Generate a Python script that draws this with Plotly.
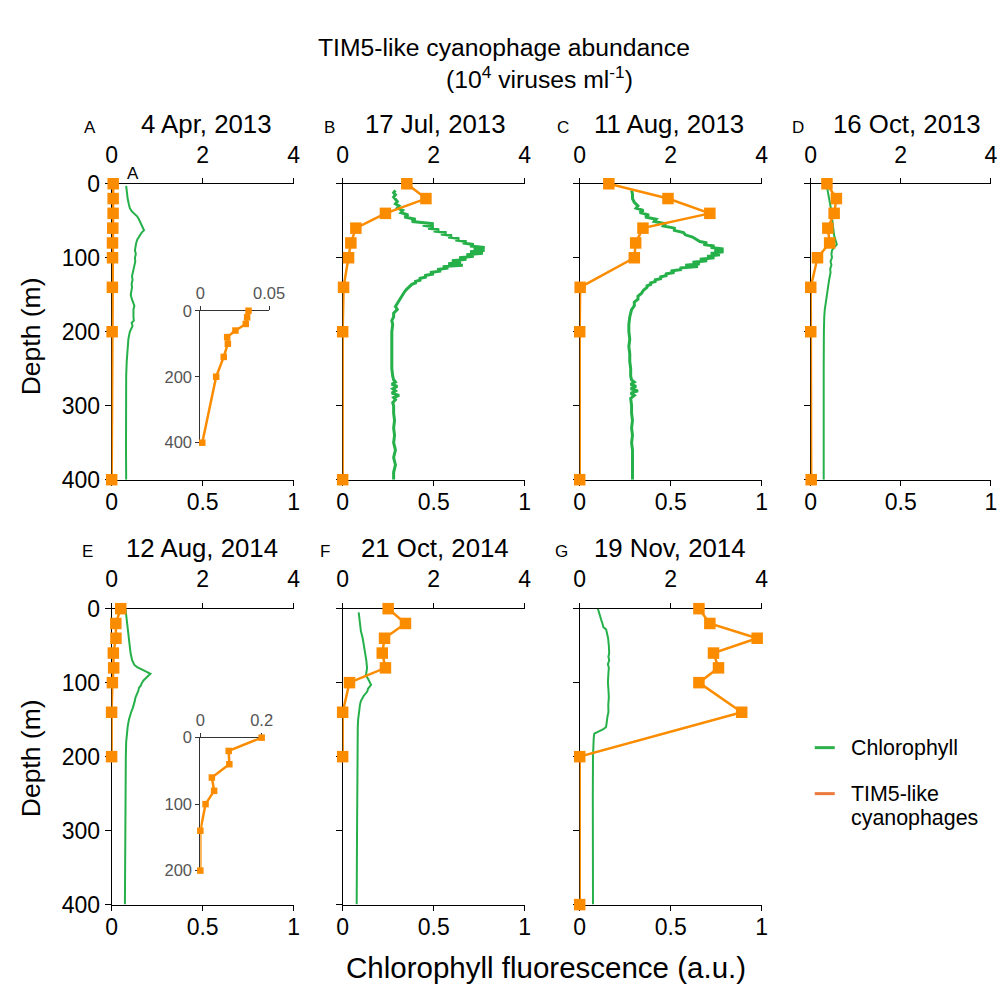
import plotly.graph_objects as go

# ---------------- data ----------------
phage_depth = [0, 20, 40, 60, 80, 100, 140, 200, 400]
phage_depth_EF = [0, 20, 40, 60, 80, 100, 140, 200]

phage_A = [0.035, 0.034, 0.033, 0.0255, 0.0195, 0.020, 0.017, 0.0115, 0.0014]
phage_B = [1.41, 1.83, 0.94, 0.29, 0.18, 0.13, 0.02, 0.0, 0.0]
phage_C = [0.64, 1.94, 2.86, 1.39, 1.23, 1.20, 0.01, 0.0, 0.0]
phage_D = [0.36, 0.57, 0.52, 0.38, 0.42, 0.15, 0.0, 0.0, 0.01]
phage_E = [0.20, 0.0925, 0.0946, 0.0376, 0.045, 0.017, 0.0, 0.0]
phage_F = [1.00, 1.38, 0.92, 0.87, 0.94, 0.15, 0.0, 0.0]
phage_G = [2.62, 2.86, 3.90, 2.94, 3.05, 2.62, 3.56, 0.0, 0.0]

chl_depth_A = [3, 10, 20, 28, 33, 37, 40, 44, 48, 52, 56, 60, 63, 66, 70, 75, 80, 85, 90, 95, 100,
               105, 110, 115, 120, 125, 130, 135, 140, 145, 150, 155, 160, 165, 170, 175, 180, 185,
               188, 192, 196, 200, 210, 220, 230, 240, 260, 280, 300, 330, 360, 400]
chl_A = [0.080, 0.083, 0.088, 0.095, 0.100, 0.110, 0.125, 0.140, 0.150, 0.158, 0.165, 0.175, 0.178,
         0.165, 0.153, 0.142, 0.135, 0.133, 0.128, 0.133, 0.128, 0.130, 0.125, 0.120, 0.118, 0.112,
         0.115, 0.110, 0.112, 0.108, 0.105, 0.110, 0.118, 0.125, 0.120, 0.118, 0.120, 0.122, 0.110,
         0.115, 0.108, 0.100, 0.092, 0.088, 0.085, 0.083, 0.080, 0.079, 0.079, 0.079, 0.079, 0.080]

chl_depth_B = [9, 12, 15, 18, 21, 24, 27, 30, 33, 36, 39, 42, 45, 48, 51, 54, 56, 58, 60, 62, 64, 66,
               68, 70, 72, 74, 76, 78, 80, 82, 84, 86, 88, 90, 92, 94, 96, 98, 100, 102, 104, 106,
               108, 110, 112, 114, 116, 118, 120, 122, 124, 126, 128, 130, 132, 134, 136, 138, 140,
               143, 146, 150, 154, 158, 162, 166, 170, 175, 180, 185, 190, 200, 210, 220, 230, 240,
               250, 260, 265, 268, 271, 274, 277, 280, 283, 286, 289, 292, 296, 300, 310, 320, 330,
               340, 350, 360, 370, 380, 390, 400]
chl_B = [0.29, 0.28, 0.29, 0.28, 0.29, 0.30, 0.29, 0.31, 0.30, 0.33, 0.32, 0.36, 0.34, 0.40, 0.38,
         0.50, 0.44, 0.50, 0.47, 0.53, 0.50, 0.57, 0.54, 0.60, 0.58, 0.64, 0.62, 0.68, 0.66, 0.72,
         0.70, 0.78, 0.72, 0.78, 0.70, 0.77, 0.68, 0.72, 0.64, 0.68, 0.60, 0.65, 0.58, 0.66, 0.55,
         0.58, 0.52, 0.54, 0.48, 0.50, 0.45, 0.46, 0.42, 0.43, 0.40, 0.40, 0.38, 0.37, 0.36, 0.35,
         0.34, 0.33, 0.32, 0.31, 0.30, 0.29, 0.30, 0.28, 0.28, 0.27, 0.275, 0.27, 0.27, 0.27, 0.27,
         0.27, 0.27, 0.275, 0.28, 0.29, 0.27, 0.30, 0.275, 0.29, 0.27, 0.31, 0.28, 0.29, 0.275,
         0.28, 0.28, 0.285, 0.28, 0.285, 0.28, 0.29, 0.28, 0.29, 0.28, 0.28]

chl_depth_C = [9, 14, 20, 25, 30, 33, 36, 39, 42, 45, 48, 51, 54, 57, 60, 63, 66, 69, 72, 75, 78, 80,
               82, 84, 86, 88, 90, 92, 94, 96, 98, 100, 102, 104, 106, 108, 110, 112, 114, 116, 118,
               120, 122, 124, 126, 128, 130, 132, 134, 136, 138, 140, 144, 148, 152, 156, 160, 165,
               170, 175, 180, 190, 200, 210, 220, 230, 240, 250, 260, 265, 268, 271, 274, 277, 280,
               283, 286, 290, 300, 310, 320, 330, 340, 350, 360, 370, 380, 390, 400]
chl_C = [0.285, 0.29, 0.29, 0.30, 0.32, 0.31, 0.35, 0.33, 0.38, 0.36, 0.42, 0.41, 0.47, 0.46, 0.52,
         0.52, 0.57, 0.58, 0.62, 0.64, 0.66, 0.70, 0.68, 0.74, 0.72, 0.79, 0.74, 0.79, 0.72, 0.77,
         0.70, 0.74, 0.66, 0.70, 0.62, 0.66, 0.58, 0.65, 0.55, 0.56, 0.50, 0.52, 0.47, 0.48, 0.44,
         0.45, 0.41, 0.42, 0.39, 0.39, 0.37, 0.37, 0.35, 0.34, 0.32, 0.32, 0.30, 0.30, 0.285, 0.28,
         0.275, 0.27, 0.27, 0.275, 0.27, 0.275, 0.275, 0.28, 0.28, 0.285, 0.30, 0.28, 0.31, 0.28,
         0.32, 0.28, 0.30, 0.28, 0.285, 0.285, 0.29, 0.285, 0.29, 0.285, 0.29, 0.29, 0.29, 0.29, 0.29]

chl_depth_D = [0, 10, 20, 30, 40, 50, 60, 70, 78, 82, 86, 90, 95, 100, 105, 110, 115, 120, 130, 140,
               150, 160, 170, 180, 190, 200, 250, 300, 350, 400]
chl_D = [0.087, 0.095, 0.105, 0.112, 0.117, 0.120, 0.125, 0.130, 0.140, 0.145, 0.130, 0.118, 0.115,
         0.118, 0.110, 0.115, 0.108, 0.110, 0.102, 0.095, 0.088, 0.082, 0.078, 0.075, 0.073, 0.073,
         0.072, 0.072, 0.072, 0.072]

chl_depth_E = [0, 10, 20, 30, 40, 50, 60, 70, 76, 79, 82, 85, 88, 91, 94, 97, 100, 104, 107, 110,
               115, 120, 125, 130, 135, 140, 145, 150, 160, 170, 180, 200, 250, 300, 350, 400]
chl_E = [0.076, 0.080, 0.085, 0.090, 0.095, 0.100, 0.104, 0.113, 0.125, 0.140, 0.170, 0.190, 0.213,
         0.200, 0.185, 0.175, 0.167, 0.160, 0.150, 0.148, 0.140, 0.131, 0.127, 0.122, 0.115, 0.107,
         0.100, 0.095, 0.088, 0.083, 0.080, 0.078, 0.077, 0.075, 0.074, 0.073]

chl_depth_F = [5, 20, 30, 40, 50, 60, 70, 80, 85, 90, 95, 100, 103, 108, 112, 118, 125, 130, 140, 150,
               160, 180, 200, 250, 300, 350, 400]
chl_F = [0.088, 0.095, 0.100, 0.110, 0.118, 0.125, 0.130, 0.134, 0.130, 0.128, 0.140, 0.148, 0.156,
         0.140, 0.135, 0.115, 0.100, 0.095, 0.088, 0.085, 0.083, 0.082, 0.081, 0.080, 0.079, 0.078,
         0.077]

chl_depth_G = [0, 5, 10, 15, 20, 25, 28, 32, 40, 50, 60, 65, 70, 75, 80, 90, 100, 110, 120, 130, 140,
               145, 150, 155, 160, 163, 166, 169, 175, 185, 200, 250, 300, 350, 400]
chl_G = [0.100, 0.105, 0.112, 0.118, 0.125, 0.130, 0.145, 0.150, 0.156, 0.160, 0.162, 0.158, 0.162,
         0.155, 0.160, 0.157, 0.155, 0.158, 0.160, 0.157, 0.158, 0.153, 0.150, 0.148, 0.145, 0.130,
         0.100, 0.080, 0.077, 0.074, 0.073, 0.072, 0.071, 0.072, 0.073]

panel_letters = ["A", "B", "C", "D", "E", "F", "G"]
panel_titles = ["4 Apr, 2013", "17 Jul, 2013", "11 Aug, 2013", "16 Oct, 2013",
                "12 Aug, 2014", "21 Oct, 2014", "19 Nov, 2014"]
depth_ticks = [0, 100, 200, 300, 400]
phage_ticks = [0, 2, 4]
chl_ticks = [0, 0.5, 1]
chl_ticktext = ["0", "0.5", "1"]

# ---------------- layout helpers ----------------
# measured mapping from figure pixels to the photographed picture: pic = A + B * fig
AX, BX = 6.4, 0.978
AY, BY = 11.2, 0.974
W, H = 1008, 992
GREEN = "#25b04a"
ORANGE = "#fb8c00"
FONT = "Liberation Sans, Arial, Helvetica, sans-serif"


def fx(px):
    return min(1.0, max(0.0, ((px - AX) / BX) / W))


def fy(px):
    return min(1.0, max(0.0, 1 - ((px - AY) / BY) / H))


col_x = [(112, 294), (343, 525), (580, 762), (811, 991)]
row_y = [(182, 478), (607, 903)]
panel_pos = [(0, 0), (0, 1), (0, 2), (0, 3), (1, 0), (1, 1), (1, 2)]

chl_series = [(chl_depth_A, chl_A), (chl_depth_B, chl_B), (chl_depth_C, chl_C), (chl_depth_D, chl_D),
              (chl_depth_E, chl_E), (chl_depth_F, chl_F), (chl_depth_G, chl_G)]
phage_series = [(phage_depth, phage_A), (phage_depth, phage_B), (phage_depth, phage_C),
                (phage_depth, phage_D), (phage_depth_EF, phage_E), (phage_depth_EF, phage_F),
                (phage_depth, phage_G)]
chl_width = [2, 3, 3, 2, 2, 2, 2]


def ref(prefix, n):
    return prefix if n == 1 else f"{prefix}{n}"


def lay(prefix, n):
    return f"{prefix}axis" if n == 1 else f"{prefix}axis{n}"


fig = go.Figure()
layout = {}
annotations = []
shapes = []

for k in range(7):
    r, c = panel_pos[k]
    xb, xt, yn = 2 * k + 1, 2 * k + 2, k + 1
    x0, x1 = col_x[c]
    y0, y1 = row_y[r]
    d, v = chl_series[k]
    fig.add_trace(go.Scatter(x=v, y=d, mode="lines", line=dict(color=GREEN, width=chl_width[k]),
                             xaxis=ref("x", xb), yaxis=ref("y", yn), showlegend=False,
                             cliponaxis=False))
    d, v = phage_series[k]
    fig.add_trace(go.Scatter(x=v, y=d, mode="lines+markers",
                             line=dict(color=ORANGE, width=2.5),
                             marker=dict(symbol="square", size=11.5, color=ORANGE),
                             xaxis=ref("x", xt), yaxis=ref("y", yn), showlegend=False,
                             cliponaxis=False))
    common = dict(showline=True, linecolor="black", linewidth=1, ticks="outside", ticklen=5,
                  tickcolor="black", showgrid=False, zeroline=False,
                  tickfont=dict(size=23, color="black", family=FONT), layer="below traces")
    layout[lay("x", xb)] = dict(common, domain=[fx(x0), fx(x1)], range=[0, 1], anchor=ref("y", yn),
                                side="bottom", tickvals=chl_ticks, ticktext=chl_ticktext,
                                ticklabelstandoff=-3)
    layout[lay("x", xt)] = dict(common, domain=[fx(x0), fx(x1)], range=[0, 4], anchor=ref("y", yn),
                                overlaying=ref("x", xb), side="top", tickvals=phage_ticks,
                                ticklabelstandoff=6)
    layout[lay("y", yn)] = dict(common, domain=[fy(y1), fy(y0)], range=[400, 0], anchor=ref("x", xb),
                                tickvals=depth_ticks, showticklabels=(c == 0), ticklen=6,
                                ticklabelstandoff=0)
    # panel title and letter
    title_cx = [207, 436, 669, 907, 202, 435, 670][k]
    letter_x = [90, 330, 563, 798, 88, 325, 562][k]
    ty = [122, 546][r]
    annotations.append(dict(x=fx(title_cx), y=fy(ty), text=panel_titles[k], font=dict(size=25.8)))
    annotations.append(dict(x=fx(letter_x), y=fy(ty + 4), text=panel_letters[k], font=dict(size=17)))

# ---------------- insets ----------------
insets = [
    dict(data=(phage_depth, phage_A), xr=[0, 0.05], xt=[0, 0.05], xtt=["0", "0.05"],
         yr=[400, 0], yt=[0, 200, 400], xpx=(200.7, 269.5), ypx=(309, 441), xa=15, ya=8),
    dict(data=(phage_depth_EF, phage_E), xr=[0, 0.2], xt=[0, 0.2], xtt=["0", "0.2"],
         yr=[200, 0], yt=[0, 100, 200], xpx=(200.7, 262), ypx=(736, 869), xa=16, ya=9),
]
for ins in insets:
    d, v = ins["data"]
    fig.add_trace(go.Scatter(x=v, y=d, mode="lines+markers", line=dict(color=ORANGE, width=2.5),
                             marker=dict(symbol="square", size=6.5, color=ORANGE),
                             xaxis=ref("x", ins["xa"]), yaxis=ref("y", ins["ya"]), showlegend=False,
                             cliponaxis=False))
    icommon = dict(showline=True, linecolor="#333333", linewidth=1, ticks="outside", ticklen=4,
                   tickcolor="#333333", showgrid=False, zeroline=False,
                   tickfont=dict(size=16.5, color="#555555", family=FONT), layer="below traces")
    layout[lay("x", ins["xa"])] = dict(icommon, domain=[fx(ins["xpx"][0]), fx(ins["xpx"][1])],
                                       range=ins["xr"], anchor=ref("y", ins["ya"]), side="top",
                                       tickvals=ins["xt"], ticktext=ins["xtt"])
    layout[lay("y", ins["ya"])] = dict(icommon, domain=[fy(ins["ypx"][1]), fy(ins["ypx"][0])],
                                       range=ins["yr"], anchor=ref("x", ins["xa"]),
                                       tickvals=ins["yt"])

# ---------------- titles & legend ----------------
annotations += [
    dict(x=fx(504), y=fy(46), text="TIM5-like cyanophage abundance", font=dict(size=24.7)),
    dict(x=fx(540), y=fy(76), text="(10<sup>4</sup> viruses ml<sup>-1</sup>)", font=dict(size=24.7)),
    dict(x=fx(546), y=fy(966), text="Chlorophyll fluorescence (a.u.)", font=dict(size=29.5)),
    dict(x=fx(31), y=fy(335), text="Depth (m)", font=dict(size=26.5), textangle=-90),
    dict(x=fx(31), y=fy(757), text="Depth (m)", font=dict(size=26.5), textangle=-90),
    dict(x=fx(133), y=fy(172), text="A", font=dict(size=17)),
    dict(x=fx(849), y=fy(746), text="Chlorophyll", font=dict(size=21.4), xanchor="left"),
    dict(x=fx(849), y=fy(792), text="TIM5-like", font=dict(size=21.4), xanchor="left"),
    dict(x=fx(849), y=fy(816), text="cyanophages", font=dict(size=21.4), xanchor="left"),
]
for a in annotations:
    a.setdefault("xref", "paper")
    a.setdefault("yref", "paper")
    a.setdefault("showarrow", False)
    a.setdefault("xanchor", "center")
    a.setdefault("yanchor", "middle")
    a["font"] = dict(a["font"], family=FONT, color="black")

shapes += [
    dict(type="line", xref="paper", yref="paper", x0=fx(815), x1=fx(835), y0=fy(746), y1=fy(746),
         line=dict(color="#2db04b", width=3)),
    dict(type="line", xref="paper", yref="paper", x0=fx(815), x1=fx(835), y0=fy(792), y1=fy(792),
         line=dict(color="#ec7a3c", width=3)),
]

fig.update_layout(
    width=W, height=H, margin=dict(l=0, r=0, t=0, b=0, pad=0),
    paper_bgcolor="white", plot_bgcolor="white", showlegend=False,
    font=dict(family=FONT, color="black"),
    annotations=annotations, shapes=shapes, **layout,
)

fig.write_html("out.html")
